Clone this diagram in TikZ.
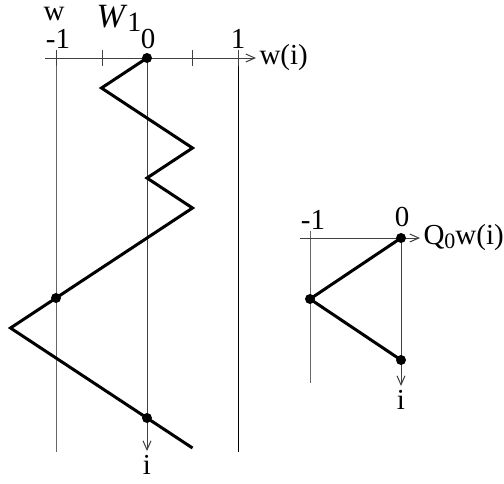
\documentclass[tikz,border=0pt]{standalone}
\usepackage{fontspec}
\setmainfont{Liberation Serif}
\usetikzlibrary{arrows.meta}
\begin{document}
\begin{tikzpicture}[x=0.5pt,y=-0.5pt,font=\fontsize{14.5}{17}\selectfont,
    walk/.style={line width=1.5pt},
    axis/.style={line width=0.5pt,black!75,-{Straight Barb[length=4.5pt,width=4pt]}},
    level/.style={line width=0.5pt,black!60},
    tick/.style={line width=0.5pt,black!75},
    lbl/.style={inner sep=0.5pt},
    dot/.style={circle,fill=black,inner sep=0pt,minimum size=5pt}]
    \useasboundingbox (0,0) rectangle (504,483);
    % left picture: the walk w(i)
    \coordinate (ax0) at (45,58);
    \coordinate (ax1) at (256,58);
    \foreach \w [count=\k from 0] in {0,-0.5,0,0.5,0,0.5,0,-0.5,-1,-1.5,-1,-0.5,0,0.5}
        \coordinate (p\k) at (147+91*\w,58+30*\k);
    \foreach \x/\n in {56/m,102/h,192/g,238/o}{
        \coordinate (t\n) at (\x,50);
        \coordinate (b\n) at (\x,66);
        \draw[tick] (t\n) -- (b\n);
    }
    \coordinate (lm) at (56,452);
    \coordinate (lo) at (238,452);
    \coordinate (lz) at (147,451);
    \draw[level] (bm) -- (lm);
    \draw[line width=0.5pt] (bo) -- (lo);
    \draw[axis] (ax0) -- (ax1) node[right,black,inner sep=1.5pt] (wi) {w(i)};
    \draw[axis] (p0) -- (lz) node[below,black,inner sep=2pt] (il) {i};
    \draw[walk] (p0) \foreach \k in {1,...,13}{ -- (p\k)};
    \node[dot] (d0) at (p0) {};
    \node[dot] (d8) at (p8) {};
    \node[dot] (d12) at (p12) {};
    \node[lbl] (wm) at (58,39) {-1};
    \node[lbl] (wz) at (148,39) {0};
    \node[lbl] (wo) at (238,39) {1};
    \node[lbl] (wl) at (54,14) {w};
    \node[lbl] (wone) at (119,18) {{\fontsize{17}{19}\selectfont\textit{W}}\raisebox{-0.3ex}{\fontsize{14}{16}\selectfont 1}};
    % right picture: Q_0 w(i)
    \coordinate (bx0) at (300,238);
    \coordinate (bx1) at (420,238);
    \coordinate (q0) at (401,238);
    \coordinate (q1) at (310,299);
    \coordinate (q2) at (401,360);
    \coordinate (qt) at (310,231);
    \coordinate (qb) at (310,383);
    \coordinate (qz) at (401,386);
    \draw[level] (qt) -- (qb);
    \draw[axis] (bx0) -- (bx1) node[right,black,inner sep=1.5pt] (qw) {Q\raisebox{-0.3ex}{\fontsize{11}{13}\selectfont 0}w(i)};
    \draw[axis] (q0) -- (qz) node[below,black,inner sep=2pt] (qi) {i};
    \draw[walk] (q0) -- (q1) -- (q2);
    \node[dot] (e0) at (q0) {};
    \node[dot] (e1) at (q1) {};
    \node[dot] (e2) at (q2) {};
    \node[lbl] (qm) at (313,220) {-1};
    \node[lbl] (qo) at (402,217) {0};
\end{tikzpicture}
\end{document}
